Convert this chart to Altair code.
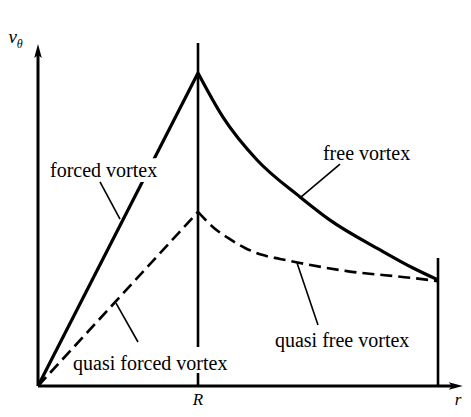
import altair as alt
import pandas as pd

# ---- data (r in units of R, v in units of peak velocity) ----
forced_r = [0.0, 1.0]
forced_v = [0.0, 1.0]

free_r = [1.0, 1.156, 1.369, 1.6375, 1.825, 2.1375, 2.344, 2.5]
free_v = [1.0, 0.859, 0.722, 0.604, 0.530, 0.435, 0.377, 0.339]

qforced_r = [0.0, 1.0]
qforced_v = [0.0, 0.556]

qfree_r = [1.0, 1.1, 1.1875, 1.294, 1.4, 1.5125, 1.6375, 1.931, 2.344, 2.5]
qfree_v = [0.556, 0.505, 0.473, 0.441, 0.419, 0.406, 0.393, 0.367, 0.345, 0.335]

R_pos = 1.0
R_top = 1.096
end_pos = 2.5
end_top = 0.409

label_text = ["forced vortex", "quasi forced vortex", "free vortex", "quasi free vortex"]
label_r = [0.075, 0.219, 1.781, 1.481]
label_v = [0.668, 0.051, 0.722, 0.125]

leader_r1 = [0.3875, 0.4875, 1.8875, 1.619]
leader_v1 = [0.652, 0.265, 0.709, 0.393]
leader_r2 = [0.5125, 0.625, 1.6375, 1.75]
leader_v2 = [0.5335, 0.1406, 0.601, 0.195]

box_r1 = [0.056, 0.2125]
box_r2 = [0.825, 1.294]
box_v1 = [0.728, 0.1246]
box_v2 = [0.652, 0.0415]

tick_text = ["R", "r"]
tick_r = [1.0, 2.625]
tick_v = [-0.061, -0.061]

# ---- scales ----
W, H = 455, 401
xs = alt.Scale(domain=[-0.1875, -0.1875 + W / 160], nice=False, zero=False)
ys = alt.Scale(domain=[-(H - 378) / 313, 378 / 313], nice=False, zero=False)
X = lambda f: alt.X(f, type="quantitative", scale=xs, axis=None)
Y = lambda f: alt.Y(f, type="quantitative", scale=ys, axis=None)


def line_df(r, v):
    return pd.DataFrame({"r": r, "v": v, "i": list(range(len(r)))})


# axes
axes_df = pd.DataFrame({"r": [0, 0], "v": [0, 0], "r2": [2.6, 0], "v2": [0, 1.06]})
axes = alt.Chart(axes_df).mark_rule(color="black", strokeWidth=3).encode(
    x=X("r"), x2="r2", y=Y("v"), y2="v2")

up_arrow = alt.Chart(pd.DataFrame({"r": [0.0], "v": [1.0927]})).mark_point(
    shape="M0,0 L-0.38,1.4 L0,1.1 L0.38,1.4 Z", filled=True, color="black",
    opacity=1, size=400).encode(x=X("r"), y=Y("v"))
right_arrow = alt.Chart(pd.DataFrame({"r": [2.655], "v": [0.0]})).mark_point(
    shape="M0,0 L-1.4,-0.38 L-1.1,0 L-1.4,0.38 Z", filled=True, color="black",
    opacity=1, size=400).encode(x=X("r"), y=Y("v"))

vlines_df = pd.DataFrame({"r": [R_pos, end_pos], "v": [0, 0], "v2": [R_top, end_top]})
vlines = alt.Chart(vlines_df).mark_rule(color="black", strokeWidth=2.6).encode(
    x=X("r"), y=Y("v"), y2="v2")

forced = alt.Chart(line_df(forced_r, forced_v)).mark_line(
    color="black", strokeWidth=3.2).encode(x=X("r"), y=Y("v"), order="i")
free = alt.Chart(line_df(free_r, free_v)).mark_line(
    color="black", strokeWidth=3.2, interpolate="monotone").encode(
    x=X("r"), y=Y("v"), order="i")

boxes_df = pd.DataFrame({"r": box_r1, "r2": box_r2, "v": box_v1, "v2": box_v2})
boxes = alt.Chart(boxes_df).mark_rect(color="white", opacity=1).encode(
    x=X("r"), x2="r2", y=Y("v"), y2="v2")

qforced = alt.Chart(line_df(qforced_r, qforced_v)).mark_line(
    color="black", strokeWidth=2.6, strokeDash=[12, 6]).encode(
    x=X("r"), y=Y("v"), order="i")
qfree = alt.Chart(line_df(qfree_r, qfree_v)).mark_line(
    color="black", strokeWidth=2.6, strokeDash=[12, 6], interpolate="monotone").encode(
    x=X("r"), y=Y("v"), order="i")

leaders_df = pd.DataFrame({"r": leader_r1, "v": leader_v1, "r2": leader_r2, "v2": leader_v2})
leaders = alt.Chart(leaders_df).mark_rule(color="black", strokeWidth=1.6).encode(
    x=X("r"), y=Y("v"), x2="r2", y2="v2")

labels_df = pd.DataFrame({"r": label_r, "v": label_v, "t": label_text})
labels = alt.Chart(labels_df).mark_text(
    font="Liberation Serif", fontSize=20, align="left", baseline="alphabetic",
    color="black").encode(x=X("r"), y=Y("v"), text="t:N")

ticks_df = pd.DataFrame({"r": tick_r, "v": tick_v, "t": tick_text})
ticks = alt.Chart(ticks_df).mark_text(
    font="Liberation Serif", fontSize=17, fontStyle="italic", align="center",
    baseline="alphabetic", color="black").encode(x=X("r"), y=Y("v"), text="t:N")

vlab = alt.Chart(pd.DataFrame({"r": [-0.185], "v": [1.095], "t": ["v"]})).mark_text(
    font="Liberation Serif", fontSize=19, fontStyle="italic", align="left",
    baseline="alphabetic", color="black").encode(x=X("r"), y=Y("v"), text="t:N")
thlab = alt.Chart(pd.DataFrame({"r": [-0.133], "v": [1.08], "t": ["θ"]})).mark_text(
    font="Liberation Serif", fontSize=12, fontStyle="italic", align="left",
    baseline="alphabetic", color="black").encode(x=X("r"), y=Y("v"), text="t:N")

chart = alt.layer(
    vlines, axes, up_arrow, right_arrow, forced, free, boxes, qforced, qfree,
    leaders, labels, ticks, vlab, thlab
).properties(
    width=W, height=H, autosize=alt.AutoSizeParams(type="none"), padding=0,
    background="white"
).configure_view(stroke=None)

chart.save("out.html", embed_options={"renderer": "svg", "actions": False})
